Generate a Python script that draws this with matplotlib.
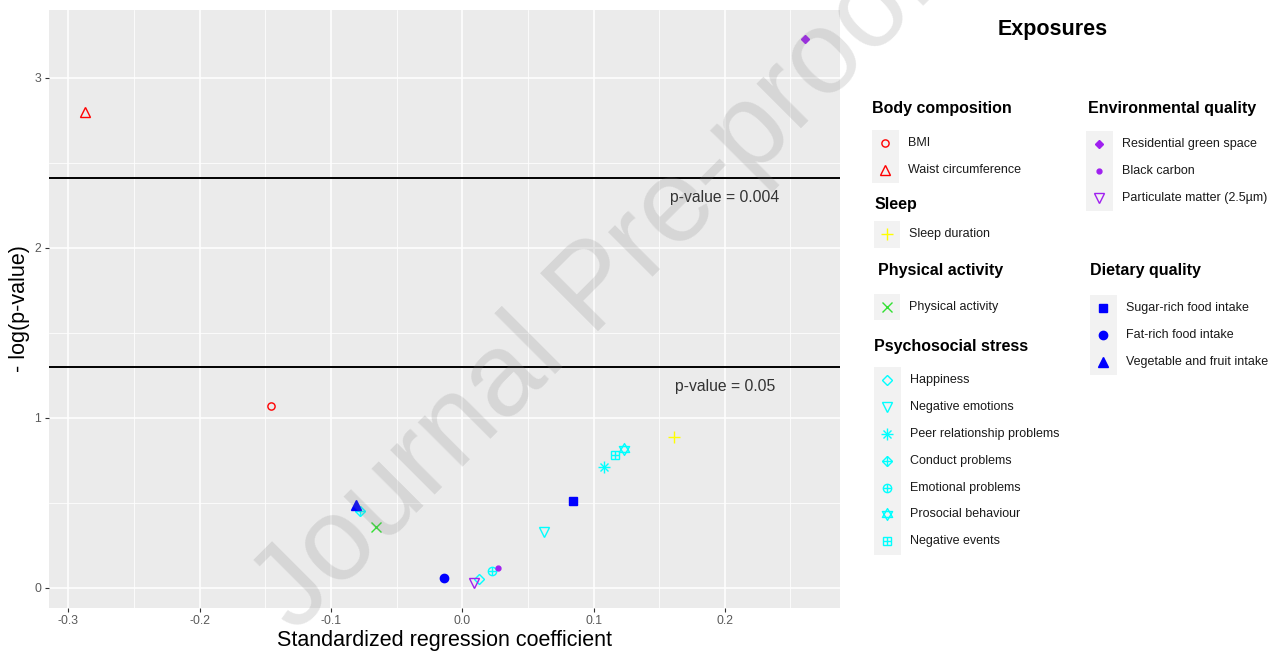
import numpy as np
import matplotlib
matplotlib.use("Agg")
import matplotlib.pyplot as plt
from matplotlib.patches import Rectangle
from matplotlib.path import Path

plt.rcParams['font.family'] = ['Liberation Sans', 'DejaVu Sans']

# ---- data ----
exposures = ["BMI", "Waist circumference",
             "Sleep duration",
             "Physical activity",
             "Happiness", "Negative emotions", "Peer relationship problems",
             "Conduct problems", "Emotional problems", "Prosocial behaviour",
             "Negative events",
             "Residential green space", "Black carbon", "Particulate matter (2.5µm)",
             "Sugar-rich food intake", "Fat-rich food intake", "Vegetable and fruit intake"]
groups = ["Body composition"] * 2 + ["Sleep"] + ["Physical activity"] + \
         ["Psychosocial stress"] * 7 + ["Environmental quality"] * 3 + ["Dietary quality"] * 3
coef = [-0.146, -0.287, 0.161, -0.066, 0.013, 0.062, 0.108, -0.078, 0.023, 0.123,
        0.116, 0.261, 0.027, 0.009, 0.084, -0.014, -0.081]
neg_log_p = [1.07, 2.80, 0.89, 0.36, 0.05, 0.33, 0.71, 0.45, 0.10, 0.82,
             0.78, 3.23, 0.12, 0.03, 0.51, 0.06, 0.49]
p_thresholds = [0.00385, 0.05]
threshold_labels = ["p-value = 0.004", "p-value = 0.05"]

xtick_vals = [-0.3, -0.2, -0.1, 0.0, 0.1, 0.2]
xtick_labels = ["-0.3", "-0.2", "-0.1", "0.0", "0.1", "0.2"]
ytick_vals = [0, 1, 2, 3]

# ---- styles ----
group_colors = {"Body composition": "#FF0000", "Sleep": "#FFFF00",
                "Physical activity": "#33E033", "Psychosocial stress": "#00FFFF",
                "Environmental quality": "#A020F0", "Dietary quality": "#0000FF"}

# star of David (two triangles around the same centre)
ang_up = np.deg2rad([90, 210, 330, 90])
ang_dn = np.deg2rad([270, 30, 150, 270])
tri_up = Path(np.column_stack([np.cos(ang_up), np.sin(ang_up)]), closed=True)
tri_dn = Path(np.column_stack([np.cos(ang_dn), np.sin(ang_dn)]), closed=True)
hexagram = Path.make_compound_path(tri_up, tri_dn)

# R pch-like shapes: list of (marker, filled, size)
SHAPES = {
    "BMI": [("o", False, 5.2)],
    "Waist circumference": [("^", False, 7)],
    "Sleep duration": [("+", False, 9)],
    "Physical activity": [("x", False, 6.5)],
    "Happiness": [("D", False, 5.5)],
    "Negative emotions": [("v", False, 7)],
    "Peer relationship problems": [("+", False, 8), ("x", False, 6)],
    "Conduct problems": [("D", False, 5), ("+", False, 7)],
    "Emotional problems": [("o", False, 6), ("+", False, 6)],
    "Prosocial behaviour": [(hexagram, False, 8.5)],
    "Negative events": [("s", False, 6), ("+", False, 6)],
    "Residential green space": [("D", True, 3.8)],
    "Black carbon": [("o", True, 3.5)],
    "Particulate matter (2.5µm)": [("v", False, 7)],
    "Sugar-rich food intake": [("s", True, 5.5)],
    "Fat-rich food intake": [("o", True, 6)],
    "Vegetable and fruit intake": [("^", True, 6.5)],
}


def draw_marker(a, x, y, name, color):
    for m, filled, size in SHAPES[name]:
        a.plot(x, y, ls="none", marker=m, ms=size, mec=color,
               mfc=color if filled else "none", mew=1.0)


W, H = 1283, 654
fig = plt.figure(figsize=(W / 100, H / 100), dpi=100)
fig.patch.set_facecolor("white")

# ---- main panel ----
left, right, top, bottom = 49, 840, 10, 607.5
ax = fig.add_axes([left / W, 1 - bottom / H, (right - left) / W, (bottom - top) / H])
ax.set_facecolor("#EBEBEB")
for s in ax.spines.values():
    s.set_visible(False)

ax.set_xlim(-0.3147, 0.2877)
ax.set_ylim(-0.115, 3.40)
ax.set_xticks(xtick_vals)
ax.set_xticklabels(xtick_labels)
ax.set_yticks(ytick_vals)
ax.set_yticklabels([str(v) for v in ytick_vals])
ax.set_xticks(np.arange(-0.25, 0.3, 0.1), minor=True)
ax.set_yticks([0.5, 1.5, 2.5], minor=True)
ax.tick_params(which="major", length=3, width=0.8, color="#333333",
               labelsize=8.8, labelcolor="#5A5A5A", pad=2.5)
ax.tick_params(which="minor", length=0)
ax.grid(which="major", color="white", lw=1.1)
ax.grid(which="minor", color="white", lw=0.55)
ax.set_axisbelow(True)

for p, lab in zip(p_thresholds, threshold_labels):
    yv = -np.log10(p)
    ax.axhline(yv, color="black", lw=1.4)
    ax.text(0.2, yv - 0.115, lab, ha="center", va="center", fontsize=11.3, color="#333333")

for name, g, xv, yv in zip(exposures, groups, coef, neg_log_p):
    draw_marker(ax, [xv], [yv], name, group_colors[g])

ax.set_xlabel("Standardized regression coefficient", fontsize=15.5, labelpad=2)
ax.set_ylabel("- log(p-value)", fontsize=15.5, labelpad=3)

# ---- legend, drawn in pixel coordinates ----
lax = fig.add_axes([0, 0, 1, 1])
lax.set_xlim(0, W)
lax.set_ylim(H, 0)
lax.axis("off")

lax.text(1053, 29, "Exposures", ha="center", va="center", fontsize=15.5, fontweight="bold")

# group: (title x, title y, key box x, key box top)
legend_layout = {
    "Body composition": (872.5, 108, 872, 129.5),
    "Sleep": (875, 204, 873.5, 221),
    "Physical activity": (877.5, 271, 873.5, 293.5),
    "Psychosocial stress": (873.5, 347, 874, 367),
    "Environmental quality": (1088, 108, 1086, 131),
    "Dietary quality": (1090, 271, 1090, 295),
}
row_h, key_w = 26.8, 26.7
for g, (tx, ty, bx, by) in legend_layout.items():
    lax.text(tx, ty, g, ha="left", va="center", fontsize=11.5, fontweight="bold")
    items = [e for e, gg in zip(exposures, groups) if gg == g]
    lax.add_patch(Rectangle((bx, by), key_w, row_h * len(items), facecolor="#F2F2F2",
                            edgecolor="none"))
    for i, e in enumerate(items):
        yy = by + row_h / 2 + i * row_h
        draw_marker(lax, [bx + key_w / 2], [yy], e, group_colors[g])
        lax.text(bx + key_w + 9, yy, e, ha="left", va="center", fontsize=9, color="#1A1A1A")

# watermark
fig.text(295 / W, 1 - 634 / H, "Journal Pre-proof", fontsize=85, rotation=45,
         rotation_mode="anchor", ha="left", va="baseline", color="#808080", alpha=0.2)

fig.savefig("out.png", dpi=100)
